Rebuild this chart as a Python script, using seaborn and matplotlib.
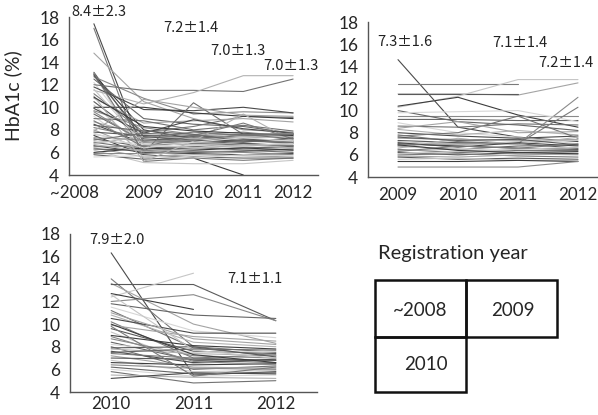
import numpy as np
import pandas as pd
import matplotlib
matplotlib.use("Agg")
import matplotlib.pyplot as plt
import seaborn as sns
from matplotlib.patches import Rectangle

# ----------------- Data -----------------
years_2008 = ["~2008", "2009", "2010", "2011", "2012"]
years_2009 = ["2009", "2010", "2011", "2012"]
years_2010 = ["2010", "2011", "2012"]

nan = np.nan

# registered up to 2008: HbA1c at ~2008, 2009, 2010, 2011, 2012
hba1c_2008 = [
    [17.4, 6.0, 6.5, 6.8, 6.6],
    [17.0, 5.2, 5.5, 5.3, 5.5],
    [14.8, 10.5, 9.0, 8.0, 7.8],
    [13.1, 7.0, 7.5, 7.2, 7.0],
    [13.0, 5.5, 6.0, 6.2, 6.4],
    [12.9, 8.0, 7.2, 7.5, 7.6],
    [12.7, 10.8, 9.4, 9.6, 9.5],
    [12.5, 9.0, 8.5, 8.3, 7.7],
    [12.2, 6.6, 6.8, 6.5, 6.9],
    [12.0, 11.5, 11.5, 11.4, 12.5],
    [11.5, 10.3, 11.3, 12.8, 12.8],
    [11.8, 9.8, 9.7, 10.0, 9.5],
    [11.2, 7.8, 8.3, 9.2, 9.1],
    [10.8, 8.6, 8.8, 9.0, 8.7],
    [10.5, 7.2, 7.0, 6.8, 6.5],
    [10.2, 6.4, 6.6, 6.5, 6.3],
    [10.0, 10.0, 9.5, 9.2, 9.0],
    [9.7, 8.2, 7.6, 7.8, 7.4],
    [9.4, 7.0, 7.3, 7.0, 7.2],
    [9.2, 6.0, 6.2, 6.0, 6.1],
    [9.0, 8.8, 8.0, 8.4, 7.9],
    [8.7, 7.6, 7.2, 7.4, 7.5],
    [8.5, 6.8, 7.0, 7.1, 6.8],
    [8.2, 7.3, 7.8, 7.5, 7.6],
    [8.0, 6.2, 6.4, 6.3, 6.2],
    [7.8, 7.5, 7.4, 7.2, 7.0],
    [7.6, 6.9, 6.7, 6.6, 6.7],
    [7.5, 5.8, 5.5, 4.0, nan],
    [7.3, 7.1, 6.9, 7.0, 6.9],
    [7.2, 6.5, 6.3, 6.4, 6.5],
    [7.0, 6.8, 6.6, 6.9, 7.1],
    [6.9, 6.3, 6.5, 6.2, 6.0],
    [6.8, 7.4, 7.2, 7.3, 7.4],
    [6.6, 6.0, 5.9, 5.8, 5.9],
    [6.5, 6.6, 6.8, 6.7, 6.6],
    [6.4, 5.6, 5.8, 5.7, 5.6],
    [6.3, 6.2, 6.0, 6.1, 6.3],
    [6.2, 5.1, 5.0, 5.0, 5.3],
    [6.0, 6.4, 6.2, 6.4, 6.2],
    [5.9, 5.9, 6.1, 6.0, 5.8],
    [5.8, 5.4, 5.6, 5.5, 5.5],
    [5.6, 5.7, 5.5, 5.8, 5.7],
    [13.0, 6.0, 10.4, 7.6, 7.2],
    [11.0, 5.2, 7.0, 9.4, 7.0],
    [9.9, 7.7, 8.9, 8.1, 7.7],
    [8.8, 6.5, 7.5, 8.6, 7.2],
    [7.9, 10.7, 10.0, 9.3, 9.2],
    [12.8, 7.4, 7.1, 6.9, 7.3],
    [11.6, 6.7, 6.4, 6.6, 6.8],
    [10.9, 8.3, 7.9, 7.7, 7.5],
    [9.6, 6.9, 7.1, 7.6, 7.7],
    [8.4, 7.9, 7.6, 7.0, 6.9],
    [7.7, 6.4, 6.9, 7.3, 7.0],
    [7.1, 7.7, 7.5, 7.6, 7.6],
    [6.7, 6.1, 6.3, 6.7, 6.4],
]

# registered in 2009: HbA1c at 2009, 2010, 2011, 2012
hba1c_2009 = [
    [14.6, 8.5, 7.6, 7.2],
    [12.4, 12.4, 12.4, nan],
    [11.5, 11.5, 11.4, 12.5],
    [11.5, 11.5, 11.5, nan],
    [10.3, 11.3, 12.8, 12.8],
    [10.4, 11.2, 9.6, 8.5],
    [9.5, 9.5, 9.5, 9.5],
    [9.2, 9.2, 9.1, 9.1],
    [8.9, 8.0, 7.6, 7.0],
    [8.6, 8.5, 8.8, 8.7],
    [8.3, 7.8, 8.2, 7.8],
    [8.0, 7.7, 7.5, 7.7],
    [7.8, 7.2, 7.0, 10.3],
    [7.5, 7.4, 7.3, 7.4],
    [7.3, 7.1, 7.0, 6.6],
    [7.2, 6.9, 7.2, 7.3],
    [7.0, 6.8, 6.6, 6.5],
    [6.9, 7.0, 7.0, 11.2],
    [6.8, 6.5, 6.8, 6.9],
    [6.7, 6.6, 6.3, 6.2],
    [6.5, 6.2, 6.4, 6.4],
    [6.4, 6.5, 6.1, 6.0],
    [6.2, 6.0, 6.2, 6.3],
    [6.0, 6.1, 5.9, 5.8],
    [5.9, 5.8, 6.0, 6.1],
    [5.8, 5.6, 5.7, 5.6],
    [5.6, 5.7, 5.5, 5.5],
    [5.4, 5.4, 5.5, 5.4],
    [4.9, 4.9, 4.9, 5.4],
    [10.0, 9.0, 8.7, 8.2],
    [9.8, 9.9, 10.0, 9.0],
    [7.7, 8.0, 9.5, 7.5],
    [6.6, 7.5, 6.9, 7.6],
    [7.1, 6.7, 7.1, 6.8],
    [6.3, 6.8, 6.6, 7.0],
    [8.4, 9.0, 8.0, 8.1],
    [7.6, 7.3, 7.4, 6.9],
    [6.1, 6.3, 6.5, 6.7],
    [6.9, 6.4, 6.2, 6.1],
]

# registered in 2010: HbA1c at 2010, 2011, 2012
hba1c_2010 = [
    [16.3, 5.5, 5.8],
    [14.0, 8.0, 7.5],
    [13.6, 10.0, 8.3],
    [13.5, 13.5, 10.3],
    [12.4, 14.5, nan],
    [12.7, 11.3, nan],
    [12.0, 12.6, 10.3],
    [11.8, 10.8, 10.5],
    [11.5, 9.4, 8.8],
    [11.2, 7.9, 7.2],
    [10.8, 8.4, 8.0],
    [10.5, 9.2, 9.2],
    [10.2, 7.0, 6.8],
    [9.9, 8.9, 8.5],
    [9.6, 7.6, 7.4],
    [9.3, 6.5, 6.9],
    [9.0, 8.1, 7.8],
    [8.7, 7.2, 7.0],
    [8.4, 6.8, 6.6],
    [8.2, 7.5, 7.6],
    [8.0, 6.0, 6.3],
    [7.8, 7.4, 7.2],
    [7.6, 6.6, 6.9],
    [7.4, 7.0, 7.3],
    [7.2, 6.2, 6.1],
    [7.0, 6.9, 6.8],
    [6.8, 5.8, 5.9],
    [6.6, 6.4, 6.5],
    [6.4, 6.1, 6.0],
    [6.2, 5.6, 5.7],
    [6.0, 5.4, 5.5],
    [5.8, 4.8, 5.0],
    [5.5, 5.3, 5.2],
    [5.2, 5.7, 5.6],
    [9.8, 5.4, 6.2],
    [11.0, 8.7, 8.2],
    [7.9, 8.0, 7.1],
    [12.6, 7.7, 7.0],
    [10.0, 7.3, 6.6],
    [8.9, 6.7, 6.4],
    [7.5, 7.8, 7.7],
]

labels_2008 = ["8.4\u00b12.3", "7.2\u00b11.4", "7.0\u00b11.3", "7.0\u00b11.3"]
labels_2009 = ["7.3\u00b11.6", "7.1\u00b11.4", "7.2\u00b11.4"]
labels_2010 = ["7.9\u00b12.0", "7.1\u00b11.1"]

# ----------------- Style -----------------
sns.set_style("white")
plt.rcParams["font.family"] = ["Lato", "DejaVu Sans"]
ANNOT_FONT = ["Noto Sans CJK JP", "DejaVu Sans"]

grays = ["#4a4a4a", "#7a7a7a", "#a4a4a4", "#5a5a5a", "#c6c6c6",
         "#3c3c3c", "#8a8a8a", "#666666", "#d6d6d6", "#727272", "#b2b2b2"]


def to_long(rows, years):
    recs = []
    for pid, row in enumerate(rows):
        for i, v in enumerate(row):
            recs.append({"pid": pid, "pos": i, "year": years[i], "hba1c": v})
    return pd.DataFrame(recs).dropna()


def draw_panel(ax, rows, years, label_pos=None, xpad=7):
    df = to_long(rows, years)
    n_lines = len(rows)
    pal = [grays[i % len(grays)] for i in range(n_lines)]
    sns.lineplot(data=df, x="pos", y="hba1c", hue="pid", palette=pal,
                 errorbar=None, linewidth=0.8, legend=False, ax=ax)
    n = len(years)
    ax.set_xlim(-0.5, n - 0.5)
    ax.set_ylim(4, 18)
    ax.set_yticks(range(4, 19, 2))
    # tick marks at category boundaries, labels at category centres
    ax.set_xticks(np.arange(n + 1) - 0.5)
    ax.set_xticklabels([])
    pos = np.arange(n) if label_pos is None else label_pos
    ax.set_xticks(pos, minor=True)
    ax.set_xticklabels(years, minor=True)
    ax.tick_params(axis="x", which="minor", length=0, pad=xpad, labelsize=12.2)
    ax.tick_params(axis="x", which="major", length=5, width=1, color="#555555",
                   direction="out")
    ax.tick_params(axis="y", length=5, width=1, color="#555555", direction="out",
                   labelsize=12.5, pad=2)
    for s in ["top", "right"]:
        ax.spines[s].set_visible(False)
    for s in ["left", "bottom"]:
        ax.spines[s].set_color("#555555")
        ax.spines[s].set_linewidth(1)
    ax.set_xlabel("")
    ax.set_ylabel("")


def annotate(ax, spots, texts):
    for (x, y), t in zip(spots, texts):
        ax.text(x, y, t, ha="center", va="center", fontsize=10.5,
                family=ANNOT_FONT, color="#222222", clip_on=False)


fig = plt.figure(figsize=(5.98, 4.15), dpi=100)

ax1 = fig.add_axes([69 / 598, 1 - 175 / 415, 249 / 598, 158 / 415])
draw_panel(ax1, hba1c_2008, years_2008, label_pos=[-0.38, 1, 2, 3, 4])
ax1.set_ylabel("HbA1c (%)", fontsize=14)
ax1.yaxis.set_label_coords(-0.19, 0.5)
annotate(ax1, [(0.1, 18.45), (1.95, 17.0), (2.9, 15.0), (3.95, 13.7)], labels_2008)

ax2 = fig.add_axes([368 / 598, 1 - 177 / 415, 240 / 598, 155 / 415])
draw_panel(ax2, hba1c_2009, years_2009)
annotate(ax2, [(0.12, 16.2), (2.03, 16.1), (2.8, 14.3)], labels_2009)

ax3 = fig.add_axes([70 / 598, 1 - 392 / 415, 247 / 598, 158.4 / 415])
draw_panel(ax3, hba1c_2010, years_2010, xpad=3)
annotate(ax3, [(0.07, 17.4), (1.74, 14.0)], labels_2010)

# ----------------- Registration year key -----------------
key = fig.add_axes([0, 0, 1, 1], facecolor="none")
key.set_xlim(0, 598)
key.set_ylim(415, 0)
key.axis("off")
key.text(453, 253, "Registration year", ha="center", va="center", fontsize=14.5)
for x0, y0, w, h in [(375, 280, 91, 57), (466, 280, 91, 57), (375, 337, 91, 55)]:
    key.add_patch(Rectangle((x0, y0), w, h, fill=False, edgecolor="#111111", linewidth=1.8))
key.text(420, 310, "~2008", ha="center", va="center", fontsize=13.5)
key.text(513, 310, "2009", ha="center", va="center", fontsize=13.5)
key.text(426, 364, "2010", ha="center", va="center", fontsize=13.5)

fig.savefig("out.png", dpi=100)
